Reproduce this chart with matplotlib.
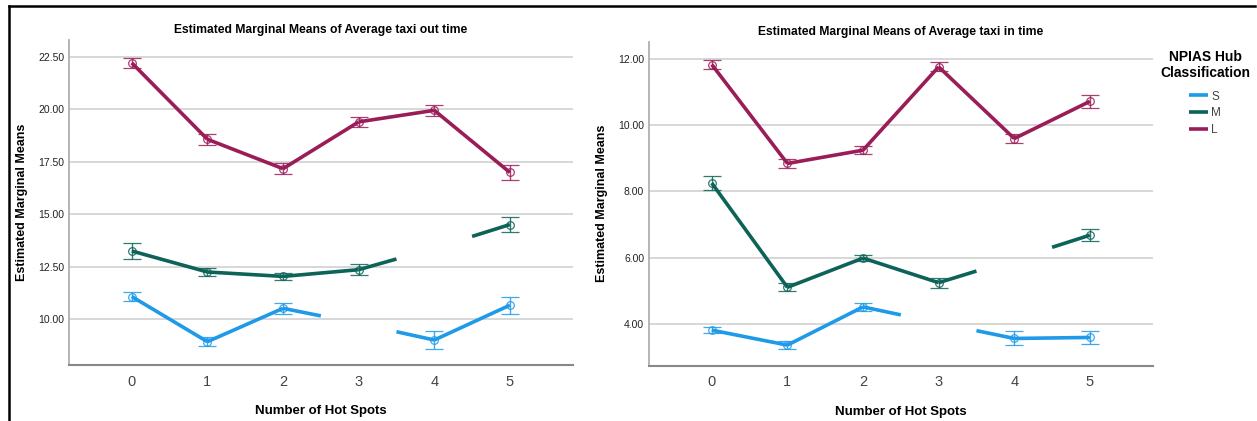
import matplotlib.pyplot as plt
from matplotlib.lines import Line2D
import numpy as np

plt.rcParams['font.family'] = ['Liberation Sans', 'DejaVu Sans']

# Number of hot spots
hot_spots = [0, 1, 2, 3, 4, 5]
groups = ['S', 'M', 'L']
# values at non-estimable cells are read from the half-segments drawn toward them
estimable = {'S': [1, 1, 1, 0, 1, 1], 'M': [1, 1, 1, 1, 0, 1], 'L': [1, 1, 1, 1, 1, 1]}

# taxi out time
out_S = [11.08, 8.93, 10.52, 9.80, 9.01, 10.67]
out_M = [13.25, 12.25, 12.04, 12.36, 13.38, 14.51]
out_L = [22.21, 18.57, 17.17, 19.40, 19.95, 16.99]
out_S_err = [0.21, 0.21, 0.25, 0, 0.42, 0.40]
out_M_err = [0.36, 0.20, 0.17, 0.25, 0, 0.36]
out_L_err = [0.25, 0.25, 0.25, 0.25, 0.26, 0.36]

# taxi in time
in_S = [3.82, 3.37, 4.52, 4.04, 3.57, 3.60]
in_M = [8.25, 5.11, 5.99, 5.25, 5.95, 6.68]
in_L = [11.82, 8.84, 9.24, 11.75, 9.59, 10.71]
in_S_err = [0.10, 0.11, 0.13, 0, 0.21, 0.20]
in_M_err = [0.20, 0.12, 0.09, 0.15, 0, 0.19]
in_L_err = [0.14, 0.14, 0.13, 0.14, 0.13, 0.20]

colors = {'S': '#1f9ae8', 'M': '#0d6358', 'L': '#9b1d58'}


def draw_series(ax, vals, errs, ok, color, label):
    x = np.array(hot_spots, dtype=float)
    y = np.array(vals, dtype=float)
    ok = np.array(ok, dtype=bool)
    first = True
    for i in range(len(x) - 1):
        if not ok[i] and not ok[i + 1]:
            continue
        xs = [x[i], x[i + 1]]
        ys = [y[i], y[i + 1]]
        if not ok[i + 1]:
            xs[1] = (x[i] + x[i + 1]) / 2
            ys[1] = (y[i] + y[i + 1]) / 2
        elif not ok[i]:
            xs[0] = (x[i] + x[i + 1]) / 2
            ys[0] = (y[i] + y[i + 1]) / 2
        ax.plot(xs, ys, color=color, lw=2.6, solid_capstyle='butt',
                label=label if first else None, zorder=3)
        first = False
    ax.errorbar(x[ok], y[ok], yerr=np.array(errs)[ok], fmt='o', ms=5.5,
                mfc='none', mec=color, mew=0.9, ecolor=color, elinewidth=1.0,
                capsize=6.8, capthick=1.3, alpha=0.85, zorder=4)


def setup(ax, title, ylim, yticks):
    ax.set_xlim(-0.83, 5.83)
    ax.set_ylim(*ylim)
    ax.set_yticks(yticks)
    ax.set_yticklabels(['%.2f' % t for t in yticks], fontsize=7.5, color='#222222')
    ax.set_xticks(hot_spots)
    ax.set_xticklabels([str(h) for h in hot_spots], fontsize=10.5, color='#444444')
    ax.tick_params(axis='both', length=0)
    ax.tick_params(axis='x', pad=7)
    ax.tick_params(axis='y', pad=3.5)
    ax.grid(axis='y', color='#d4d4d4', lw=1.3)
    ax.set_axisbelow(True)
    for s in ['top', 'right']:
        ax.spines[s].set_visible(False)
    ax.spines['left'].set_color('#b0b0b0')
    ax.spines['left'].set_linewidth(1.3)
    ax.spines['bottom'].set_color('#888888')
    ax.spines['bottom'].set_linewidth(1.5)
    ax.set_title(title, fontsize=8.7, fontweight='bold', pad=5)
    ax.set_xlabel('Number of Hot Spots', fontsize=9.5, fontweight='bold', labelpad=12)
    ax.set_ylabel('Estimated Marginal Means', fontsize=9, fontweight='bold', labelpad=7)


fig = plt.figure(figsize=(12.57, 4.21), dpi=100)
ax1 = fig.add_axes([0.0549, 0.133, 0.4007, 0.772])
ax2 = fig.add_axes([0.5163, 0.1314, 0.4007, 0.769])

draw_series(ax1, out_S, out_S_err, estimable['S'], colors['S'], 'S')
draw_series(ax1, out_M, out_M_err, estimable['M'], colors['M'], 'M')
draw_series(ax1, out_L, out_L_err, estimable['L'], colors['L'], 'L')
setup(ax1, 'Estimated Marginal Means of Average taxi out time', (7.82, 23.3),
      [10, 12.5, 15, 17.5, 20, 22.5])

draw_series(ax2, in_S, in_S_err, estimable['S'], colors['S'], 'S')
draw_series(ax2, in_M, in_M_err, estimable['M'], colors['M'], 'M')
draw_series(ax2, in_L, in_L_err, estimable['L'], colors['L'], 'L')
setup(ax2, 'Estimated Marginal Means of Average taxi in time', (2.75, 12.5),
      [4, 6, 8, 10, 12])

leg = ax2.legend(title='NPIAS Hub\nClassification', loc='upper center',
                 bbox_to_anchor=(1.104, 1.008), frameon=False, fontsize=8.5,
                 title_fontproperties={'size': 10, 'weight': 'bold'},
                 handlelength=1.6, handletextpad=0.3, labelspacing=0.4)
leg._legend_box.sep = 7.5
leg.get_title().set_multialignment('center')
for t in leg.get_texts():
    t.set_color('#444444')

# page frame
fig.add_artist(Line2D([8.5 / 1257, 8.5 / 1257], [0, 1 - 6 / 421],
                      transform=fig.transFigure, color='black', lw=1.8))
fig.add_artist(Line2D([8.5 / 1257, 1255 / 1257], [1 - 6 / 421, 1 - 6 / 421],
                      transform=fig.transFigure, color='black', lw=1.8))

fig.savefig('out.png', dpi=100)
